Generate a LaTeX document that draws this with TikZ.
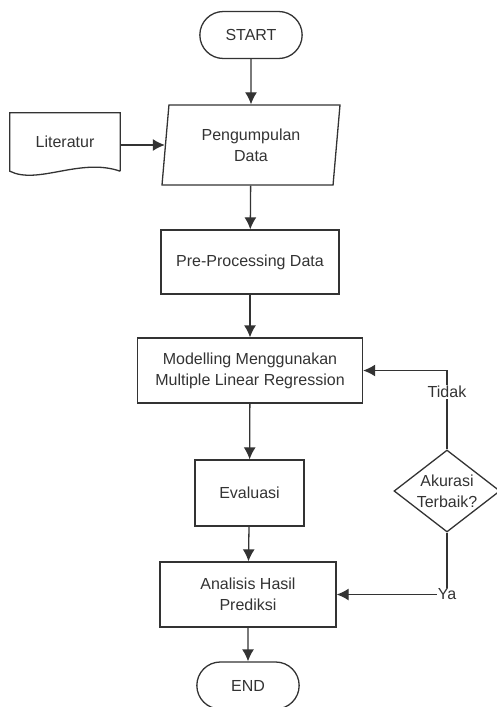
\documentclass[tikz,border=0pt]{standalone}
\usepackage{fontspec}
\setmainfont{Liberation Sans}
\usetikzlibrary{shapes.geometric,shapes.misc,arrows.meta}
\definecolor{garis}{HTML}{333333}

\begin{document}
\begin{tikzpicture}[x=1pt,y=-1pt,
    every node/.style={text=garis,font=\fontsize{16}{21}\selectfont,align=center},
    line/.style={draw=garis,line width=1.3pt},
    arr/.style={line,-{Latex[length=12pt,width=12pt]}},
    terminal/.style={line,rounded rectangle,minimum width=109pt,minimum height=47pt},
    proses/.style={line,rectangle},
    io/.style={line,trapezium,trapezium left angle=80,trapezium right angle=100,
      trapezium stretches body,minimum width=178pt,minimum height=80pt},
    keputusan/.style={line,diamond,aspect=1.3,inner sep=-3pt,minimum width=106pt,minimum height=82pt},
    ket/.style={fill=white,inner sep=1pt}]
  \useasboundingbox (0,0) rectangle (497,707);

  \node[terminal] (start) at (251,35) {START};
  \node[io] (pengumpulan) at (251,145) {Pengumpulan\\Data};
  \node[minimum width=110pt,minimum height=58pt] (literatur) at (65,142) {Literatur};
  \node[proses,minimum width=178pt,minimum height=64pt] (preproc) at (250,262) {Pre-Processing Data};
  \node[proses,minimum width=225pt,minimum height=65pt] (modelling) at (250,370.5) {Modelling Menggunakan\\Multiple Linear Regression};
  \node[proses,minimum width=109pt,minimum height=66pt] (evaluasi) at (249.5,493) {Evaluasi};
  \node[proses,minimum width=176pt,minimum height=65pt] (analisis) at (248,594.5) {Analisis Hasil\\Prediksi};
  \node[terminal] (end) at (248,685.5) {END};
  \node[keputusan] (akurasi) at (447,491) {Akurasi\\Terbaik?};
  \node[ket] (ya) at (akurasi.south |- analisis.east) {Ya};

  % dokumen literatur
  \draw[line] (literatur.south east) -- (literatur.north east) -- (literatur.north west) -- (literatur.south west)
    .. controls +(28,14) and +(-40,-14) .. (literatur.south east);

  \draw[arr] (start) -- (pengumpulan);
  \draw[arr] (literatur.east |- pengumpulan.west) -- (pengumpulan.west);
  \draw[arr] (pengumpulan) -- (preproc);
  \draw[arr] (preproc) -- (modelling);
  \draw[arr] (modelling) -- (evaluasi);
  \draw[arr] (evaluasi) -- (analisis);
  \draw[arr] (analisis) -- (end);

  \draw[arr] (akurasi.north) -- node[ket,pos=0.73] (tidak) {Tidak} (akurasi.north |- modelling.east) -- (modelling.east);
  \draw[line] (akurasi.south) -- (ya.north);
  \draw[arr] (ya.west) -- (analisis.east);
\end{tikzpicture}
\end{document}
